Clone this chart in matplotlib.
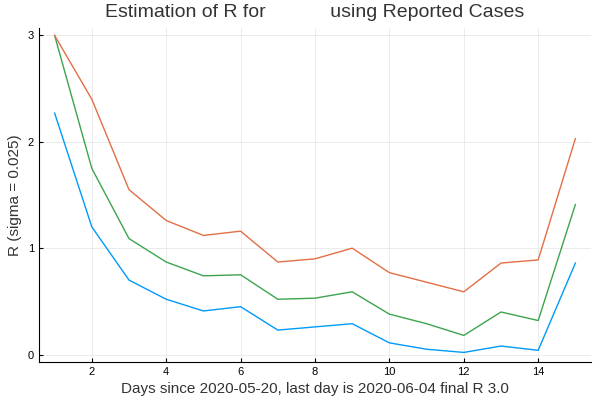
import matplotlib
matplotlib.use("Agg")
import matplotlib.pyplot as plt

plt.rcParams['font.family'] = ['Liberation Sans', 'DejaVu Sans']

days = list(range(1, 16))
r_low = [2.27, 1.20, 0.70, 0.52, 0.41, 0.45, 0.23, 0.26, 0.29, 0.11, 0.05, 0.02, 0.08, 0.04, 0.86]
r_mid = [3.00, 1.75, 1.09, 0.87, 0.74, 0.75, 0.52, 0.53, 0.59, 0.38, 0.29, 0.18, 0.40, 0.32, 1.41]
r_high = [3.00, 2.40, 1.55, 1.26, 1.12, 1.16, 0.87, 0.90, 1.00, 0.77, 0.68, 0.59, 0.86, 0.89, 2.03]

fig = plt.figure(figsize=(6, 4), dpi=100)
ax = fig.add_axes([0.065, 0.095, 0.92, 0.835])
ax.plot(days, r_low, color="#009af9", lw=1)
ax.plot(days, r_mid, color="#3da44d", lw=1)
ax.plot(days, r_high, color="#e26f46", lw=1)
ax.set_xlim(0.58, 15.42)
ax.set_ylim(-0.07, 3.07)
ax.set_xticks([2, 4, 6, 8, 10, 12, 14])
ax.set_yticks([0, 1, 2, 3])
ax.grid(True, color="#e8e8e8", lw=0.6)
for s in ["top", "right"]:
    ax.spines[s].set_visible(False)
ax.tick_params(labelsize=8, length=3, direction="in")
ax.set_xlabel("Days since 2020-05-20, last day is 2020-06-04 final R 3.0", fontsize=11, color="#333333")
ax.set_ylabel("R (sigma = 0.025)", fontsize=11, color="#333333")
ax.set_title("Estimation of R for            using Reported Cases", fontsize=14, color="#333333", pad=8)
fig.savefig("out.png")
